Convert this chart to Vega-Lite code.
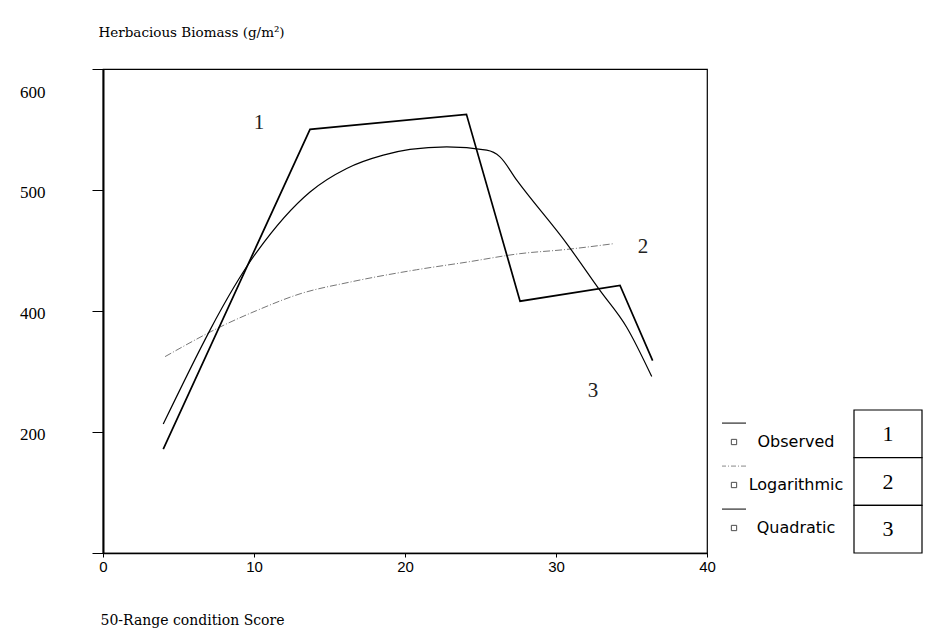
{
  "$schema": "https://vega.github.io/schema/vega-lite/v6.json",
  "background": "white",
  "padding": {"left": 18, "top": 24, "right": 0, "bottom": 0},
  "bounds": "flush",
  "spacing": 0,
  "datasets": {
    "curves": [
      {"series": "Observed", "x": 3.99, "y": 285.9},
      {"series": "Observed", "x": 13.71, "y": 550.1},
      {"series": "Observed", "x": 24.07, "y": 562.5},
      {"series": "Observed", "x": 27.62, "y": 408.1},
      {"series": "Observed", "x": 34.24, "y": 421.1},
      {"series": "Observed", "x": 36.4, "y": 359.0},
      {"series": "Logarithmic", "x": 4.11, "y": 362.3},
      {"series": "Logarithmic", "x": 8.19, "y": 389.4},
      {"series": "Logarithmic", "x": 10.18, "y": 400.4},
      {"series": "Logarithmic", "x": 13.05, "y": 414.2},
      {"series": "Logarithmic", "x": 16.36, "y": 423.9},
      {"series": "Logarithmic", "x": 20.77, "y": 434.1},
      {"series": "Logarithmic", "x": 24.09, "y": 440.4},
      {"series": "Logarithmic", "x": 27.62, "y": 447.4},
      {"series": "Logarithmic", "x": 30.71, "y": 450.9},
      {"series": "Logarithmic", "x": 33.79, "y": 455.6},
      {"series": "Quadratic", "x": 3.99, "y": 306.6},
      {"series": "Quadratic", "x": 10.18, "y": 448.7},
      {"series": "Quadratic", "x": 13.71, "y": 498.4},
      {"series": "Quadratic", "x": 16.14, "y": 517.8},
      {"series": "Quadratic", "x": 18.56, "y": 528.8},
      {"series": "Quadratic", "x": 20.33, "y": 533.5},
      {"series": "Quadratic", "x": 22.76, "y": 535.7},
      {"series": "Quadratic", "x": 25.41, "y": 532.9},
      {"series": "Quadratic", "x": 26.29, "y": 527.4},
      {"series": "Quadratic", "x": 27.4, "y": 508.1},
      {"series": "Quadratic", "x": 30.71, "y": 455.7},
      {"series": "Quadratic", "x": 32.91, "y": 417.0},
      {"series": "Quadratic", "x": 34.68, "y": 386.6},
      {"series": "Quadratic", "x": 36.34, "y": 345.8}
    ],
    "notes": [
      {"label": "1", "x": 10.33, "y": 555.3},
      {"label": "2", "x": 35.76, "y": 452.6},
      {"label": "3", "x": 32.45, "y": 334.2}
    ],
    "series": [
      {"series": "Observed", "num": "1"},
      {"series": "Logarithmic", "num": "2"},
      {"series": "Quadratic", "num": "3"}
    ],
    "none": []
  },
  "hconcat": [
    {
      "width": 604,
      "height": 484,
      "view": {"stroke": "black", "strokeWidth": 1.2},
      "data": {"name": "curves"},
      "encoding": {
        "x": {
          "field": "x", "type": "quantitative",
          "scale": {"domain": [0, 40], "nice": false},
          "axis": {
            "values": [0, 10, 20, 30, 40],
            "grid": false,
            "title": "50-Range condition Score",
            "titleFont": "DejaVu Serif", "titleFontSize": 14, "titleFontWeight": "normal", "titleColor": "black",
            "titleX": -3, "titleY": 67, "titleAlign": "left", "titleBaseline": "middle", "titleAnchor": "start",
            "labelFont": "Liberation Sans", "labelFontSize": 15, "labelColor": "black", "labelPadding": 2,
            "labelFlush": false,
            "tickSize": 4, "tickColor": "black",
            "domainColor": "black", "domainWidth": 1.5
          }
        },
        "y": {
          "field": "y", "type": "quantitative",
          "scale": {"domain": [200, 600], "nice": false, "zero": false},
          "axis": {
            "values": [200, 300, 400, 500, 600],
            "grid": false,
            "title": "Herbacious Biomass (g/m²)",
            "titleAngle": 0, "titleX": -5, "titleY": -37, "titleAlign": "left", "titleBaseline": "middle",
            "titleFont": "DejaVu Serif", "titleFontSize": 13.5, "titleFontWeight": "normal", "titleColor": "black",
            "labelFont": "Liberation Serif", "labelFontSize": 17, "labelColor": "black", "labelPadding": 47,
            "labelExpr": "datum.value == 300 ? '200' : (datum.value == 200 ? '' : datum.label)",
            "labelOffset": {"condition": {"test": "datum.value == 600", "value": 23}, "value": 2},
            "labelFlush": false, "labelOverlap": false,
            "tickSize": 11, "tickColor": "black",
            "domainColor": "black", "domainWidth": 2
          }
        }
      },
      "layer": [
        {
          "transform": [{"filter": "datum.series == 'Logarithmic'"}],
          "mark": {"type": "line", "color": "#777777", "strokeWidth": 1, "strokeDash": [7, 2, 1, 2], "interpolate": "monotone"}
        },
        {
          "transform": [{"filter": "datum.series == 'Quadratic'"}],
          "mark": {"type": "line", "color": "black", "strokeWidth": 1.2, "interpolate": "monotone"}
        },
        {
          "transform": [{"filter": "datum.series == 'Observed'"}],
          "mark": {"type": "line", "color": "black", "strokeWidth": 1.7}
        },
        {
          "data": {"name": "notes"},
          "mark": {"type": "text", "font": "Liberation Serif", "fontSize": 21, "color": "#222222"},
          "encoding": {"text": {"field": "label"}}
        }
      ]
    },
    {
      "width": 15,
      "height": 484,
      "view": {"stroke": null},
      "data": {"name": "none"},
      "mark": "point"
    },
    {
      "width": 24,
      "height": 484,
      "view": {"stroke": null},
      "data": {"name": "series"},
      "layer": [
        {
          "mark": {"type": "rule", "strokeWidth": 1},
          "encoding": {
            "y": {"field": "series", "type": "nominal", "bandPosition": 0.06,
              "scale": {"type": "band", "domain": ["Observed", "Logarithmic", "Quadratic"], "range": [351.5, 480.5], "paddingInner": 0, "paddingOuter": 0},
              "axis": null},
            "color": {"field": "series", "type": "nominal",
              "scale": {"domain": ["Observed", "Logarithmic", "Quadratic"], "range": ["black", "#888888", "black"]}, "legend": null},
            "strokeDash": {"field": "series", "type": "nominal",
              "scale": {"domain": ["Observed", "Logarithmic", "Quadratic"], "range": [[1, 0], [5, 2, 1, 2], [1, 0]]}, "legend": null}
          }
        },
        {
          "mark": {"type": "point", "shape": "square", "size": 28, "filled": false, "color": "black", "strokeWidth": 1},
          "encoding": {
            "y": {"field": "series", "type": "nominal", "bandPosition": 0.5,
              "scale": {"type": "band", "domain": ["Observed", "Logarithmic", "Quadratic"], "range": [351.5, 480.5], "paddingInner": 0, "paddingOuter": 0},
              "axis": null}
          }
        }
      ]
    },
    {
      "width": 100,
      "height": 484,
      "view": {"stroke": null},
      "data": {"name": "series"},
      "mark": {"type": "text", "font": "DejaVu Sans", "fontSize": 16, "color": "black"},
      "encoding": {
        "y": {"field": "series", "type": "nominal",
          "scale": {"type": "band", "domain": ["Observed", "Logarithmic", "Quadratic"], "range": [351.5, 480.5], "paddingInner": 0, "paddingOuter": 0},
          "axis": null},
        "text": {"field": "series"}
      }
    },
    {
      "width": 8,
      "height": 484,
      "view": {"stroke": null},
      "data": {"name": "none"},
      "mark": "point"
    },
    {
      "width": 68,
      "height": 484,
      "view": {"stroke": null},
      "data": {"name": "series"},
      "encoding": {
        "y": {"field": "series", "type": "nominal",
          "scale": {"type": "band", "domain": ["Observed", "Logarithmic", "Quadratic"], "range": [341, 484], "paddingInner": 0, "paddingOuter": 0},
          "axis": null}
      },
      "layer": [
        {"mark": {"type": "rect", "fill": "white", "stroke": "black", "strokeWidth": 1.2}},
        {"mark": {"type": "text", "font": "Liberation Serif", "fontSize": 22, "color": "black"},
         "encoding": {"text": {"field": "num"}}}
      ]
    }
  ]
}
